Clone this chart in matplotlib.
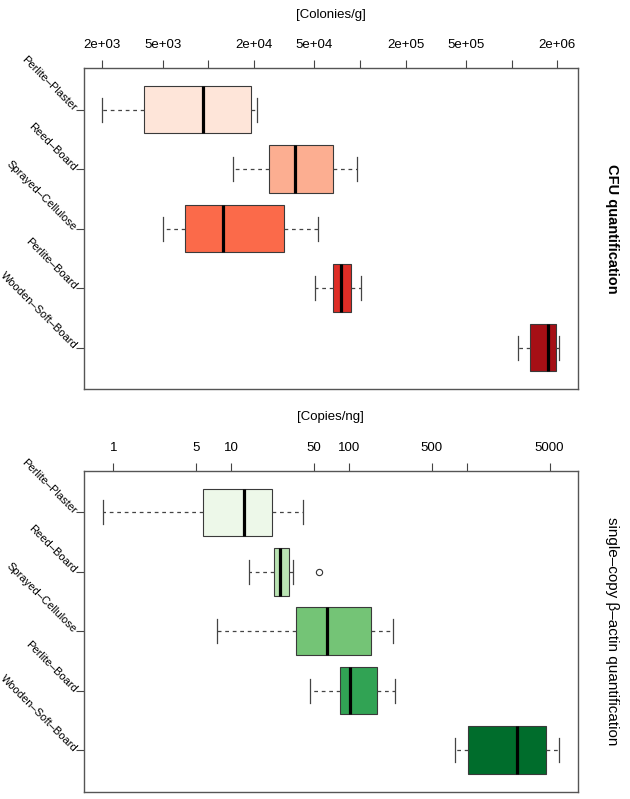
import numpy as np
import matplotlib
matplotlib.use("Agg")
from matplotlib import pyplot as plt
from matplotlib.ticker import NullLocator

plt.rcParams['font.family'] = ['Liberation Sans', 'DejaVu Sans']

materials = ["Perlite–Plaster", "Reed–Board", "Sprayed–Cellulose",
             "Perlite–Board", "Wooden–Soft–Board"]

# CFU quantification [Colonies/g]
cfu_whislo = [2000, 14500, 5000, 50500, 1.10e6]
cfu_q1 = [3770, 25200, 7020, 66100, 1.32e6]
cfu_med = [9270, 37400, 12440, 75000, 1.74e6]
cfu_q3 = [19000, 66700, 31700, 87300, 1.95e6]
cfu_whishi = [20900, 95500, 53100, 101000, 2.06e6]
cfu_fliers = [[], [], [], [], []]
cfu_ticks = [2e3, 5e3, 1e4, 2e4, 5e4, 1e5, 2e5, 5e5, 1e6, 2e6]
cfu_ticklabels = ["2e+03", "5e+03", "", "2e+04", "5e+04", "",
                  "2e+05", "5e+05", "", "2e+06"]
cfu_colors = ["#FEE5D9", "#FCAE91", "#FB6A4A", "#DE2D26", "#A50F15"]

# single-copy beta-actin quantification [Copies/ng]
act_whislo = [0.807, 14.2, 7.58, 46.6, 787]
act_q1 = [5.69, 22.8, 35.0, 83.7, 1007]
act_med = [12.8, 25.6, 65.3, 101.8, 2657]
act_q3 = [22.3, 31.1, 152.4, 171.5, 4652]
act_whishi = [40.6, 33.2, 234, 246, 6030]
act_fliers = [[], [55.6], [], [], []]
act_ticks = [1, 5, 10, 50, 100, 500, 1000, 5000]
act_ticklabels = ["1", "5", "10", "50", "100", "500", "", "5000"]
act_colors = ["#EDF8E9", "#BAE4B3", "#74C476", "#31A354", "#006D2C"]


def panel(ax, lo, q1, med, q3, hi, fliers, colors, ticks, ticklabels,
          xlim, xlabel, side_label, side_weight):
    stats = []
    for i in range(len(materials)):
        stats.append(dict(whislo=lo[i], q1=q1[i], med=med[i], q3=q3[i],
                          whishi=hi[i], fliers=fliers[i], label=materials[i]))
    ax.set_xscale('log')
    bp = ax.bxp(stats, positions=np.arange(1, len(stats) + 1),
                orientation='horizontal', widths=0.8, capwidths=0.4,
                patch_artist=True,
                boxprops=dict(edgecolor='#3a3a3a', linewidth=0.8),
                whiskerprops=dict(color='#444444', linewidth=0.9,
                                  linestyle=(0, (3, 3))),
                capprops=dict(color='#444444', linewidth=0.9),
                medianprops=dict(color='black', linewidth=2.3),
                flierprops=dict(marker='o', markerfacecolor='none',
                                markeredgecolor='#333333', markersize=4.5,
                                markeredgewidth=0.8))
    for patch, c in zip(bp['boxes'], colors):
        patch.set_facecolor(c)

    ax.set_xlim(*xlim)
    ax.set_ylim(5.7, 0.3)

    ax.xaxis.tick_top()
    ax.xaxis.set_label_position('top')
    ax.set_xticks(ticks, ticklabels)
    ax.xaxis.set_minor_locator(NullLocator())
    ax.tick_params(axis='x', direction='out', length=6, width=0.8,
                   color='#444444', pad=6, labelsize=9.5)
    ax.set_xlabel(xlabel, fontsize=9.5, labelpad=15.5)

    ax.set_yticks(np.arange(1, len(materials) + 1))
    ax.set_yticklabels(materials, rotation=-45, ha='right', va='center',
                       rotation_mode='anchor', fontsize=8)
    ax.tick_params(axis='y', direction='out', length=6, width=0.8,
                   color='#444444', pad=0.5)

    for s in ax.spines.values():
        s.set_color('#555555')
        s.set_linewidth(1.0)

    ax.text(1.069, 0.5, side_label, transform=ax.transAxes, rotation=-90,
            ha='center', va='center', fontsize=10.5 if side_weight == 'bold' else 11,
            fontweight=side_weight)


fig = plt.figure(figsize=(6.3, 7.99), dpi=100)
ax1 = fig.add_axes([0.1333, 0.5128, 0.7837, 0.4021])
ax2 = fig.add_axes([0.1333, 0.0091, 0.7837, 0.4018])

panel(ax1, cfu_whislo, cfu_q1, cfu_med, cfu_q3, cfu_whishi, cfu_fliers,
      cfu_colors, cfu_ticks, cfu_ticklabels, (1516, 2.723e6),
      "[Colonies/g]", "CFU quantification", 'bold')
panel(ax2, act_whislo, act_q1, act_med, act_q3, act_whishi, act_fliers,
      act_colors, act_ticks, act_ticklabels, (0.562, 8652),
      "[Copies/ng]", "single–copy β–actin quantification", 'normal')

fig.savefig("out.png", dpi=100)
